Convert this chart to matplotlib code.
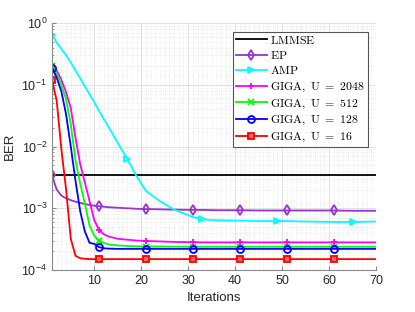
import numpy as np
import matplotlib
matplotlib.use('Agg')
import matplotlib.pyplot as plt
from matplotlib.ticker import LogLocator, MultipleLocator, NullFormatter

plt.rcParams['font.family'] = ['Liberation Sans', 'DejaVu Sans']
plt.rcParams['mathtext.fontset'] = 'cm'

# iteration points
iters = [1, 2, 3, 4, 5, 6, 7, 8, 9, 10, 11, 12, 13, 15, 17, 19, 21, 24, 27, 31,
         33, 36, 41, 45, 49, 51, 55, 61, 65, 70]

ber_lmmse = [3.4e-3] * len(iters)
ber_ep = [3.4e-3, 2.0e-3, 1.6e-3, 1.45e-3, 1.35e-3, 1.28e-3, 1.22e-3, 1.17e-3, 1.13e-3, 1.1e-3,
          1.08e-3, 1.06e-3, 1.04e-3, 1.02e-3, 1.0e-3, 0.98e-3, 0.97e-3, 0.96e-3, 0.95e-3, 0.94e-3,
          0.94e-3, 0.93e-3, 0.93e-3, 0.92e-3, 0.92e-3, 0.92e-3, 0.92e-3, 0.92e-3, 0.91e-3, 0.91e-3]
ber_amp = [0.65, 0.48, 0.38, 0.3, 0.23, 0.17, 0.127, 0.094, 0.07, 0.052,
           0.038, 0.028, 0.021, 0.0115, 6.3e-3, 3.3e-3, 1.9e-3, 1.3e-3, 9.5e-4, 7.2e-4,
           6.6e-4, 6.4e-4, 6.3e-4, 6.2e-4, 6.2e-4, 6.2e-4, 6.1e-4, 6.0e-4, 6.0e-4, 6.1e-4]
ber_u2048 = [0.22, 0.17, 0.12, 0.075, 0.042, 0.014, 5.2e-3, 2.6e-3, 1.3e-3, 6.4e-4,
             4.5e-4, 3.8e-4, 3.5e-4, 3.2e-4, 3.1e-4, 3.0e-4, 2.95e-4, 2.9e-4, 2.85e-4, 2.82e-4,
             2.8e-4, 2.8e-4, 2.8e-4, 2.8e-4, 2.8e-4, 2.8e-4, 2.8e-4, 2.8e-4, 2.8e-4, 2.8e-4]
ber_u512 = [0.2, 0.15, 0.1, 0.058, 0.023, 6e-3, 2.5e-3, 1.2e-3, 5.2e-4, 3.6e-4,
            3.0e-4, 2.75e-4, 2.6e-4, 2.5e-4, 2.45e-4, 2.42e-4, 2.4e-4, 2.4e-4, 2.39e-4, 2.38e-4,
            2.38e-4, 2.38e-4, 2.38e-4, 2.38e-4, 2.38e-4, 2.38e-4, 2.38e-4, 2.38e-4, 2.38e-4, 2.38e-4]
ber_u128 = [0.19, 0.13, 0.078, 0.033, 0.01, 2.8e-3, 9e-4, 4.2e-4, 2.75e-4, 2.65e-4,
            2.35e-4, 2.25e-4, 2.22e-4, 2.2e-4, 2.2e-4, 2.2e-4, 2.2e-4, 2.2e-4, 2.2e-4, 2.2e-4,
            2.2e-4, 2.2e-4, 2.2e-4, 2.2e-4, 2.2e-4, 2.2e-4, 2.2e-4, 2.2e-4, 2.2e-4, 2.2e-4]
ber_u16 = [0.12, 0.055, 9e-3, 2e-3, 3.2e-4, 1.7e-4, 1.55e-4, 1.52e-4, 1.5e-4, 1.5e-4,
           1.5e-4, 1.5e-4, 1.5e-4, 1.5e-4, 1.5e-4, 1.5e-4, 1.5e-4, 1.5e-4, 1.5e-4, 1.5e-4,
           1.5e-4, 1.5e-4, 1.5e-4, 1.5e-4, 1.5e-4, 1.5e-4, 1.5e-4, 1.5e-4, 1.5e-4, 1.5e-4]

marks_10 = [1, 11, 21, 31, 41, 51, 61]
marks_amp = [1, 17, 33, 49, 65]

series = [
    (r'$\mathrm{LMMSE}$', ber_lmmse, 'black', None, []),
    (r'$\mathrm{EP}$', ber_ep, '#9933CC', 'd', marks_10),
    (r'$\mathrm{AMP}$', ber_amp, '#00FFFF', '>', marks_amp),
    (r'$\mathrm{GIGA,\ U\ =\ 2048}$', ber_u2048, '#FF00FF', '+', marks_10),
    (r'$\mathrm{GIGA,\ U\ =\ 512}$', ber_u512, '#00FF00', 'x', marks_10),
    (r'$\mathrm{GIGA,\ U\ =\ 128}$', ber_u128, '#0000FF', 'o', marks_10),
    (r'$\mathrm{GIGA,\ U\ =\ 16}$', ber_u16, '#FF0000', 's', marks_10),
]

fig = plt.figure(figsize=(4.15, 3.12), dpi=100)
ax = fig.add_axes([52/415, 1 - 270/312, (376-52)/415, (270-23)/312])

for label, y, c, m, mk in series:
    idx = [iters.index(k) for k in mk]
    ax.plot(iters, y, color=c, lw=1.3, marker=m, markevery=idx if idx else None,
            ms=5, mfc='none' if m not in ('s',) else '#FF6666', mew=1.3, label=label)

ax.set_yscale('log')
ax.set_xlim(1, 70)
ax.set_ylim(1e-4, 1)
ax.xaxis.set_major_locator(MultipleLocator(10))
ax.xaxis.set_minor_locator(MultipleLocator(1))
ax.yaxis.set_major_locator(LogLocator(base=10, numticks=10))
ax.yaxis.set_minor_locator(LogLocator(base=10, subs=np.arange(2, 10), numticks=20))
ax.yaxis.set_minor_formatter(NullFormatter())

ax.grid(True, which='major', color='#DDDDDD', lw=0.6)
ax.grid(True, which='minor', color='#DDDDDD', lw=0.5, ls=(0, (1, 2)))
ax.set_axisbelow(True)

for s in ['top', 'right']:
    ax.spines[s].set_visible(False)
for s in ['left', 'bottom']:
    ax.spines[s].set_color('#888888')
    ax.spines[s].set_linewidth(0.8)
ax.tick_params(which='both', direction='in', colors='#888888', labelcolor='#262626', labelsize=9)
ax.tick_params(which='major', length=3)
ax.tick_params(which='minor', length=1.5)
ax.tick_params(axis='x', which='minor', length=0)

ax.set_xlabel('Iterations', fontsize=9.5, color='#262626')
ax.set_ylabel('BER', fontsize=9.5, color='#262626')

leg = ax.legend(loc='upper right', bbox_to_anchor=(0.975, 0.965), fontsize=8.5, fancybox=False,
                framealpha=1, edgecolor='#555555', handlelength=2.6, handletextpad=0.3,
                borderpad=0.25, labelspacing=0.28, borderaxespad=0)
leg.get_frame().set_linewidth(0.8)

fig.savefig('out.png', dpi=100)
